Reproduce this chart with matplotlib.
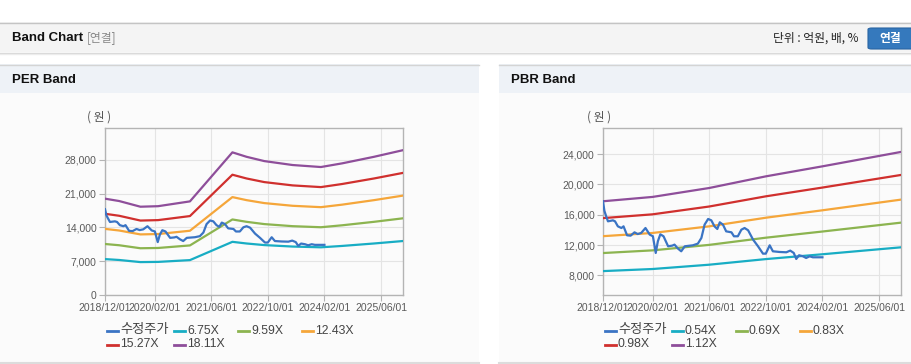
import matplotlib
matplotlib.use("Agg")
import matplotlib.pyplot as plt
from matplotlib.lines import Line2D
from matplotlib.patches import Rectangle, FancyBboxPatch
from matplotlib.ticker import FuncFormatter

plt.rcParams['font.family'] = ['Liberation Sans', 'Noto Sans CJK KR', 'DejaVu Sans']

# ---------------- data ----------------
tick_months = [0, 14, 30, 46, 62, 78]
tick_labels = ['2018/12/01', '2020/02/01', '2021/06/01', '2022/10/01', '2024/02/01', '2025/06/01']

# adjusted share price (months since 2018/12)
price_month = [0, 0.4, 0.9, 1.4, 2.8, 3.4, 4.2, 5.2, 5.8, 6.8, 7.8, 8.9, 9.8, 10.8, 12.0, 13.2,
               14.1, 14.9, 15.5, 16.2, 17.1, 18.4, 19.6, 20.2, 21.2, 22.1, 23.1, 25.4, 26.8,
               27.8, 28.7, 29.7, 30.6, 31.5, 32.3, 33.0, 33.9, 34.8, 36.3, 37.0, 38.1, 39.1,
               40.0, 41.0, 42.4, 43.8, 45.2, 46.0, 47.1, 48.0, 49.9, 51.8, 52.9, 53.9, 54.6,
               55.4, 56.5, 57.4, 58.4, 59.3, 62.0]
price = [17770, 16500, 15790, 15130, 15260, 15130, 14470, 14250, 14470, 13290, 13240, 13680,
         13450, 13600, 14250, 13380, 13160, 10960, 12500, 13420, 13160, 11840, 11930, 12060,
         11530, 11180, 11840, 11970, 12190, 12940, 14690, 15440, 15260, 14470, 14120, 15000,
         14690, 13810, 13680, 13160, 13160, 14030, 14250, 13950, 12720, 11840, 10870, 10870,
         11970, 11180, 11090, 11050, 11270, 10960, 10170, 10660, 10520, 10300, 10520, 10390,
         10390]

# PER band: EPS (won) and multiples
eps_month = [0, 4, 10, 15, 24, 36, 40, 45, 53, 61, 67, 76, 84]
eps = [1102, 1075, 1010, 1016, 1071, 1632, 1581, 1532, 1487, 1464, 1506, 1581, 1655]
per_multiples = [6.75, 9.59, 12.43, 15.27, 18.11]
per_labels = ['6.75X', '9.59X', '12.43X', '15.27X', '18.11X']

# PBR band: BPS (won) and multiples
bps_month = [0, 14, 30, 46, 62, 84]
bps = [15870, 16380, 17430, 18800, 19980, 21660]
pbr_multiples = [0.54, 0.69, 0.83, 0.98, 1.12]
pbr_labels = ['0.54X', '0.69X', '0.83X', '0.98X', '1.12X']

price_label = '수정주가'
price_color = '#3a74c4'
band_colors = ['#18adc4', '#8cb450', '#f5a63a', '#d0302e', '#8e4e9a']

# ---------------- figure ----------------
W, H = 912, 364
fig = plt.figure(figsize=(W / 100, H / 100), dpi=100)
fig.patch.set_facecolor('white')


def fx(x):
    return x / W


def fy(y):
    return 1 - y / H


def rect(x0, y0, x1, y1, color, z=0):
    fig.add_artist(Rectangle((fx(x0), fy(y1)), fx(x1) - fx(x0), fy(y0) - fy(y1),
                             transform=fig.transFigure, facecolor=color, edgecolor='none', zorder=z))


def hline(x0, x1, y, color, lw=1.0, z=1):
    fig.add_artist(Line2D([fx(x0), fx(x1)], [fy(y), fy(y)], transform=fig.transFigure,
                          color=color, lw=lw, zorder=z))


# top bar
rect(0, 22, W, 52, '#f4f4f4')
hline(0, W, 22.5, '#c4c4c4', 1.0)
hline(0, W, 52.5, '#d6d6d6', 1.0)
hline(0, W, 53.5, '#ececec', 1.0)
fig.text(fx(12), fy(38), 'Band Chart', fontsize=9.5, fontweight='bold', color='#111111',
         va='center', ha='left', family=['Liberation Sans Narrow', 'Liberation Sans', 'Noto Sans CJK KR'])
fig.text(fx(87), fy(38), '[연결]', fontsize=8.5, color='#888888', va='center', ha='left',
         family=['Noto Sans CJK KR'])
fig.text(fx(859), fy(38), '단위 : 억원, 배, %', fontsize=8.5, color='#222222', va='center', ha='right',
         family=['Noto Sans CJK KR'])
fig.add_artist(FancyBboxPatch((fx(868), fy(49)), fx(60), fy(28) - fy(49),
                              boxstyle='round,pad=0,rounding_size=0.004', transform=fig.transFigure,
                              facecolor='#3579bd', edgecolor='#2a65a3', lw=0.8, zorder=2))
fig.text(fx(890), fy(38.5), '연결', fontsize=8.5, color='white', fontweight='bold', va='center',
         ha='center', family=['Noto Sans CJK KR'], zorder=3)

# panels
panels = [(0, 479, 'PER Band'), (499, W, 'PBR Band')]
for x0, x1, title in panels:
    rect(x0, 64, x1, 364, '#fbfbfb')
    rect(x0, 64, x1, 93, '#eef2f7')
    hline(x0, x1, 64.5, '#d4d4d4', 1.0, 2)
    hline(x0, x1, 362.5, '#dcdcdc', 1.5, 2)
    fig.text(fx(x0 + 12), fy(80), title, fontsize=9.5, fontweight='bold', color='#111111',
             va='center', ha='left')


def make_axes(left, ylim, yticks, band_x, band_base, multiples, labels, unit_x):
    ax = fig.add_axes([fx(left), fy(295), fx(298), fy(128) - fy(295)])
    ax.set_facecolor('#fbfbfb')
    ax.set_xlim(0, 84.2)
    ax.set_ylim(*ylim)
    ax.set_xticks(tick_months)
    ax.set_xticklabels(tick_labels)
    ax.set_yticks(yticks)
    ax.yaxis.set_major_formatter(FuncFormatter(lambda v, p: f'{int(round(v)):,}'))
    ax.grid(True, color='#e4e4e4', lw=0.8)
    ax.set_axisbelow(True)
    for s in ax.spines.values():
        s.set_color('#b4b4b4')
        s.set_linewidth(1.0)
    ax.tick_params(axis='both', colors='#b4b4b4', labelcolor='#5a5a5a', labelsize=7.5,
                   length=4, width=0.8, pad=2)
    for m, c in zip(multiples, band_colors):
        ax.plot(band_x, [b * m for b in band_base], color=c, lw=1.6, solid_joinstyle='round', zorder=3)
    ax.plot(price_month, price, color=price_color, lw=1.6, zorder=4, solid_joinstyle='round')
    fig.text(fx(unit_x), fy(117), '( 원 )', fontsize=8.5, color='#555555', ha='center', va='center',
             family=['Noto Sans CJK KR'])

    # legend
    entries = [(price_label, price_color)] + list(zip(labels, band_colors))
    col_x = [left + 2, left + 69, left + 133, left + 197]
    for i, (lab, col) in enumerate(entries):
        r, c = divmod(i, 4)
        y = 330.5 + r * 13.5
        x = col_x[c]
        fig.add_artist(Line2D([fx(x), fx(x + 11)], [fy(y + 0.5), fy(y + 0.5)], transform=fig.transFigure,
                              color=col, lw=2.0))
        fig.text(fx(x + 13), fy(y), lab, fontsize=8.8 if i else 9.5, color='#444444', ha='left', va='center',
                 family=['Liberation Sans', 'Noto Sans CJK KR'])
    return ax


make_axes(105, (0, 34600), [0, 7000, 14000, 21000, 28000], eps_month, eps, per_multiples, per_labels, 99)
make_axes(603, (5420, 27430), [8000, 12000, 16000, 20000, 24000], bps_month, bps, pbr_multiples,
          pbr_labels, 599)

fig.savefig('out.png', dpi=100, facecolor='white')
